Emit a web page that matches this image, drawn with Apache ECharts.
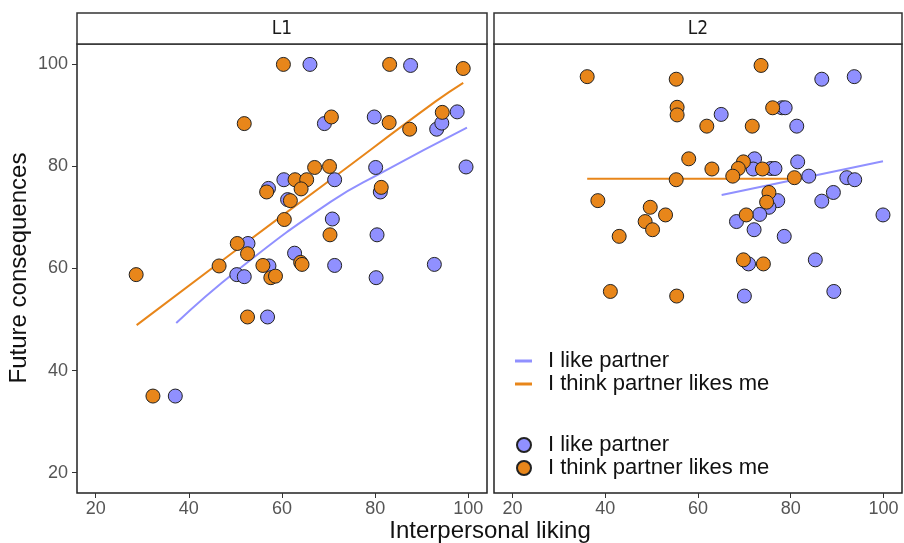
<!DOCTYPE html>
<html>
<head>
<meta charset="utf-8">
<script src="https://cdn.jsdelivr.net/npm/echarts@6/dist/echarts.min.js"></script>
<style>
  html, body { margin: 0; padding: 0; background: #fff; }
  #chart { width: 904px; height: 543px; }
</style>
</head>
<body>
<div id="chart"></div>
<script>
// 面板 L1 / L2 的点 [Interpersonal liking, Future consequences]
var l1Like = [
    [66.0, 100], [87.6, 99.8], [69.1, 88.4], [79.8, 89.7], [93.2, 87.3], [94.3, 88.5],
    [97.6, 90.7], [99.5, 79.9], [80.1, 79.8], [60.4, 77.4], [71.3, 77.4], [57.1, 75.7],
    [81.1, 75.0], [61.2, 73.5], [70.8, 69.7], [80.4, 66.6], [52.7, 64.9], [62.7, 63.0],
    [57.2, 60.5], [71.3, 60.6], [92.7, 60.8], [50.3, 58.8], [51.9, 58.4], [80.2, 58.2],
    [56.9, 50.5], [37.1, 35.0]
];
var l1Think = [
    [60.3, 100], [83.1, 100], [98.9, 99.2], [51.9, 88.4], [70.6, 89.7], [83.0, 88.6],
    [87.4, 87.3], [94.4, 90.6], [67.0, 79.8], [70.2, 80.0], [62.8, 77.4], [65.3, 77.4],
    [64.1, 75.6], [56.7, 75.0], [81.3, 75.9], [61.8, 73.3], [60.5, 69.6], [70.3, 66.6],
    [50.4, 64.9], [52.6, 62.9], [46.5, 60.5], [55.9, 60.6], [64.0, 61.2], [64.3, 60.8],
    [28.7, 58.8], [57.6, 58.2], [58.6, 58.5], [52.6, 50.5], [32.3, 35.0]
];
var l2Like = [
    [86.7, 97.1], [93.7, 97.6], [65.0, 90.2], [78.1, 91.5], [78.8, 91.5], [81.3, 87.9],
    [72.2, 81.5], [81.5, 80.9], [71.9, 79.5], [75.7, 79.6], [76.6, 79.6], [83.9, 78.1],
    [92.1, 77.8], [93.8, 77.4], [77.2, 73.3], [89.2, 74.9], [86.7, 73.2], [75.3, 72.0],
    [73.3, 70.6], [99.9, 70.5], [68.3, 69.2], [72.1, 67.6], [78.6, 66.3], [70.9, 60.9],
    [85.3, 61.7], [70.0, 54.6], [89.3, 55.5]
];
var l2Think = [
    [36.1, 97.6], [55.3, 97.1], [73.6, 99.8], [55.5, 91.6], [55.5, 90.1], [76.1, 91.5],
    [61.9, 87.9], [71.7, 87.9], [58.0, 81.5], [69.8, 80.9], [63.0, 79.5], [68.7, 79.6],
    [73.9, 79.5], [67.5, 78.1], [55.3, 77.4], [80.8, 77.8], [75.3, 74.9], [74.8, 73.0],
    [38.4, 73.3], [49.7, 72.0], [53.0, 70.5], [70.4, 70.5], [48.6, 69.2], [50.2, 67.6],
    [43.0, 66.3], [69.8, 61.7], [74.1, 60.9], [41.1, 55.5], [55.4, 54.6]
];

// 平滑拟合线
var l1LikeFit = [[37.3, 49.3], [50.5, 59.7], [70.5, 73.1], [81.2, 78.7], [99.7, 87.6]];
var l1ThinkFit = [[28.8, 48.9], [49.1, 62.9], [70, 77.1], [92.9, 92.7], [98.9, 96.4]];
var l2LikeFit = [[65.1, 74.4], [99.9, 81.0]];
var l2ThinkFit = [[36.1, 77.6], [79.6, 77.6]];

var tickValues = [20, 40, 60, 80, 100];
var panelNames = ['L1', 'L2'];
var seriesNames = ['I like partner', 'I think partner likes me'];

var blue = '#9090FF';
var orange = '#E8861A';
var font = 'Liberation Sans, Arial, sans-serif';

var chart = echarts.init(document.getElementById('chart'));

function xAxisFor(i) {
    return {
        type: 'value', gridIndex: i, min: 16, max: 104,
        axisLine: { show: false },
        axisTick: { show: true, length: 5, lineStyle: { color: '#333' }, customValues: tickValues },
        axisLabel: { margin: 7, fontSize: 18, color: '#555', fontFamily: font, customValues: tickValues },
        splitLine: { show: false }
    };
}
function yAxisFor(i) {
    return {
        type: 'value', gridIndex: i, min: 16, max: 104,
        axisLine: { show: false },
        axisTick: { show: i === 0, length: 5, lineStyle: { color: '#333' }, customValues: tickValues },
        axisLabel: { show: i === 0, margin: 9, fontSize: 18, color: '#555', fontFamily: font, customValues: tickValues },
        splitLine: { show: false }
    };
}
function scatter(name, data, i, color) {
    return {
        name: name, type: 'scatter', xAxisIndex: i, yAxisIndex: i, data: data,
        symbolSize: 14, z: 3,
        itemStyle: { color: color, borderColor: '#222', borderWidth: 1, opacity: 1 }
    };
}
function fit(name, data, i, color) {
    return {
        name: 'fit: ' + name, type: 'line', xAxisIndex: i, yAxisIndex: i, data: data,
        smooth: true, showSymbol: false, z: 2,
        lineStyle: { color: color, width: 2 }, itemStyle: { color: color }
    };
}

var option = {
    animation: false,
    backgroundColor: '#fff',
    grid: [
        { left: 77, top: 44, width: 410, bottom: 50, show: true, borderColor: '#222', borderWidth: 1.5 },
        { left: 494, top: 44, width: 408, bottom: 50, show: true, borderColor: '#222', borderWidth: 1.5 }
    ],
    xAxis: [xAxisFor(0), xAxisFor(1)],
    yAxis: [yAxisFor(0), yAxisFor(1)],
    legend: [
        {
            orient: 'vertical', left: 510, top: 345, itemGap: 1,
            icon: 'rect', itemWidth: 17, itemHeight: 3,
            data: seriesNames.map(function (n) { return 'fit: ' + n; }),
            formatter: function (n) { return n.replace('fit: ', ''); },
            textStyle: { fontSize: 22, color: '#111', fontFamily: font, padding: [0, 0, 0, 11] }
        },
        {
            orient: 'vertical', left: 511, top: 429, itemGap: 1,
            icon: 'circle', itemWidth: 14, itemHeight: 14,
            data: seriesNames,
            textStyle: { fontSize: 22, color: '#111', fontFamily: font, padding: [0, 0, 0, 12] }
        }
    ],
    graphic: [
        { type: 'rect', shape: { x: 77, y: 13, width: 410, height: 31 }, style: { fill: '#fff', stroke: '#333', lineWidth: 1.5 } },
        { type: 'rect', shape: { x: 494, y: 13, width: 408, height: 31 }, style: { fill: '#fff', stroke: '#333', lineWidth: 1.5 } },
        { type: 'text', x: 282, y: 29, style: { text: panelNames[0], font: '19px "Liberation Sans Narrow", "DejaVu Sans Condensed", sans-serif', fill: '#1a1a1a', textAlign: 'center', textVerticalAlign: 'middle' } },
        { type: 'text', x: 698, y: 29, style: { text: panelNames[1], font: '19px "Liberation Sans Narrow", "DejaVu Sans Condensed", sans-serif', fill: '#1a1a1a', textAlign: 'center', textVerticalAlign: 'middle' } },
        { type: 'text', x: 490, y: 531, style: { text: 'Interpersonal liking', font: '24px ' + font, fill: '#111', textAlign: 'center', textVerticalAlign: 'middle' } },
        { type: 'text', x: 19, y: 268, rotation: Math.PI / 2, style: { text: 'Future consequences', font: '24px ' + font, fill: '#111', textAlign: 'center', textVerticalAlign: 'middle' } }
    ],
    series: [
        fit(seriesNames[0], l1LikeFit, 0, blue),
        fit(seriesNames[1], l1ThinkFit, 0, orange),
        fit(seriesNames[0], l2LikeFit, 1, blue),
        fit(seriesNames[1], l2ThinkFit, 1, orange),
        scatter(seriesNames[0], l1Like, 0, blue),
        scatter(seriesNames[1], l1Think, 0, orange),
        scatter(seriesNames[0], l2Like, 1, blue),
        scatter(seriesNames[1], l2Think, 1, orange)
    ]
};

chart.setOption(option, true);
</script>
</body>
</html>
